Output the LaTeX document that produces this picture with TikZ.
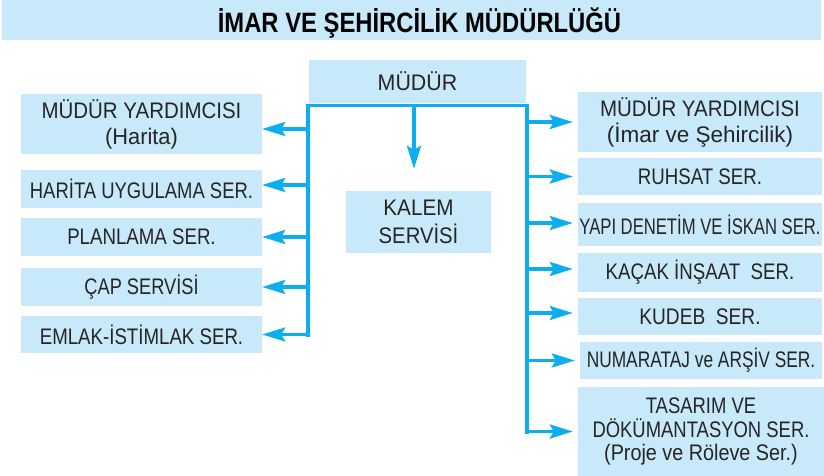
\documentclass[tikz,border=0pt]{standalone}
\usepackage{fontspec}
\usepackage{graphicx}
\setmainfont{Liberation Sans}
\newfontfamily\titlefont[FakeStretch=0.85]{Liberation Sans}
\usetikzlibrary{arrows.meta}
\definecolor{boxblue}{HTML}{C7E9F9}
\definecolor{linecyan}{HTML}{0DAEEE}
\definecolor{txt}{HTML}{262425}
\newcommand{\hs}[2]{\scalebox{#1}[1]{#2}}
\tikzset{
  box/.style={fill=boxblue, inner sep=0pt, align=center, text=txt,
    font=\fontsize{22.5}{26}\selectfont},
  trunk/.style={draw=linecyan, line width=3.3pt, line cap=rect, line join=miter},
  arr/.style={draw=linecyan, line width=3.3pt,
    -{Stealth[length=23pt,width=14pt,inset=4pt]}},
}
\begin{document}
\begin{tikzpicture}[x=1pt,y=-1pt]
\useasboundingbox (0,0) rectangle (824,476);
% title band
\node[fill=boxblue, minimum width=819pt, minimum height=40pt, inner sep=0pt] (band) at (411.5,20) {};
\node[text=black, inner sep=0pt, anchor=base, font=\titlefont\bfseries\fontsize{28}{30}\selectfont] (title) at (419.5,33) {İMAR VE ŞEHİRCİLİK MÜDÜRLÜĞÜ};
% central boxes
\node[box, minimum width=217pt, minimum height=43pt] (mudur) at (417.5,81.5) {\hs{0.95}{MÜDÜR}};
\node[box, minimum width=145pt, minimum height=62pt, font=\fontsize{22.5}{28}\selectfont] (kalem) at (418.5,222) {\hs{0.92}{KALEM}\\\hs{0.9}{SERVİSİ}};
% left boxes
\node[box, minimum width=241pt, minimum height=60pt] (myh) at (141.5,124) {\hs{0.91}{MÜDÜR YARDIMCISI}\\\hs{0.97}{(Harita)}};
\node[box, minimum width=241pt, minimum height=38pt] (hu) at (141.5,189) {\hs{0.82}{HARİTA UYGULAMA SER.}};
\node[box, minimum width=241pt, minimum height=38pt] (pl) at (141.5,237) {\hs{0.83}{PLANLAMA SER.}};
\node[box, minimum width=241pt, minimum height=38pt] (capsrv) at (141.5,287) {\hs{0.81}{ÇAP SERVİSİ}};
\node[box, minimum width=241pt, minimum height=37pt] (em) at (141.5,334.5) {\hs{0.83}{EMLAK-İSTİMLAK SER.}};
% right boxes
\node[box, minimum width=244pt, minimum height=60pt] (myi) at (700,122) {\hs{0.91}{MÜDÜR YARDIMCISI}\\\hs{1.0}{(İmar ve Şehircilik)}};
\node[box, minimum width=244pt, minimum height=37pt] (ru) at (700,176.5) {\hs{0.83}{RUHSAT SER.}};
\node[box, minimum width=244pt, minimum height=43pt] (yapi) at (700,224.5) {\hs{0.74}{YAPI DENETİM VE İSKAN SER.}};
\node[box, minimum width=244pt, minimum height=39pt] (kacak) at (700,272.5) {\hs{0.83}{KAÇAK İNŞAAT\ \ SER.}};
\node[box, minimum width=244pt, minimum height=37pt] (kudeb) at (700,316.5) {\hs{0.85}{KUDEB\ \ SER.}};
\node[box, minimum width=242pt, minimum height=37pt] (num) at (701,360.5) {\hs{0.77}{NUMARATAJ ve ARŞİV SER.}};
\node[box, minimum width=246pt, minimum height=89pt, font=\fontsize{22.5}{23.5}\selectfont] (tas) at (701,431.5) {\hs{0.82}{TASARIM VE}\\\hs{0.82}{DÖKÜMANTASYON SER.}\\\hs{0.88}{(Proje ve Röleve Ser.)}};
% trunk
\coordinate (TL) at (308,105.5);
\coordinate (TR) at (527,105.5);
\coordinate (LB) at (308,335);
\coordinate (RB) at (527,432);
\coordinate (CS) at (414,105.5);
\draw[trunk] (LB) -- (TL) -- (TR) -- (RB);
\draw[arr] (CS) -- ([yshift=22pt]kalem.north -| CS);
% arrow ends with offsets
\coordinate (myhE) at ([yshift=-5pt]myh.east);
\coordinate (huE) at ([yshift=4pt]hu.east);
\coordinate (yapiW) at ([yshift=1.5pt]yapi.west);
\coordinate (kacakW) at ([yshift=3.5pt]kacak.west);
\coordinate (kudebW) at ([yshift=3.5pt]kudeb.west);
% left arrows
\draw[arr] (TL |- myhE) -- (myhE);
\draw[arr] (TL |- huE) -- (huE);
\draw[arr] (TL |- pl.east) -- (pl.east);
\draw[arr] (TL |- capsrv.east) -- (capsrv.east);
\draw[arr] (TL |- em.east) -- (em.east);
% right arrows
\draw[arr, shorten >=5pt] (TR |- myi.west) -- (myi.west);
\draw[arr, shorten >=5pt] (TR |- ru.west) -- (ru.west);
\draw[arr, shorten >=5pt] (TR |- yapiW) -- (yapiW);
\draw[arr, shorten >=5pt] (TR |- kacakW) -- (kacakW);
\draw[arr, shorten >=5pt] (TR |- kudebW) -- (kudebW);
\draw[arr, shorten >=5pt] (TR |- num.west) -- (num.west);
\draw[arr, shorten >=5pt] (TR |- tas.west) -- (tas.west);
\end{tikzpicture}
\end{document}
